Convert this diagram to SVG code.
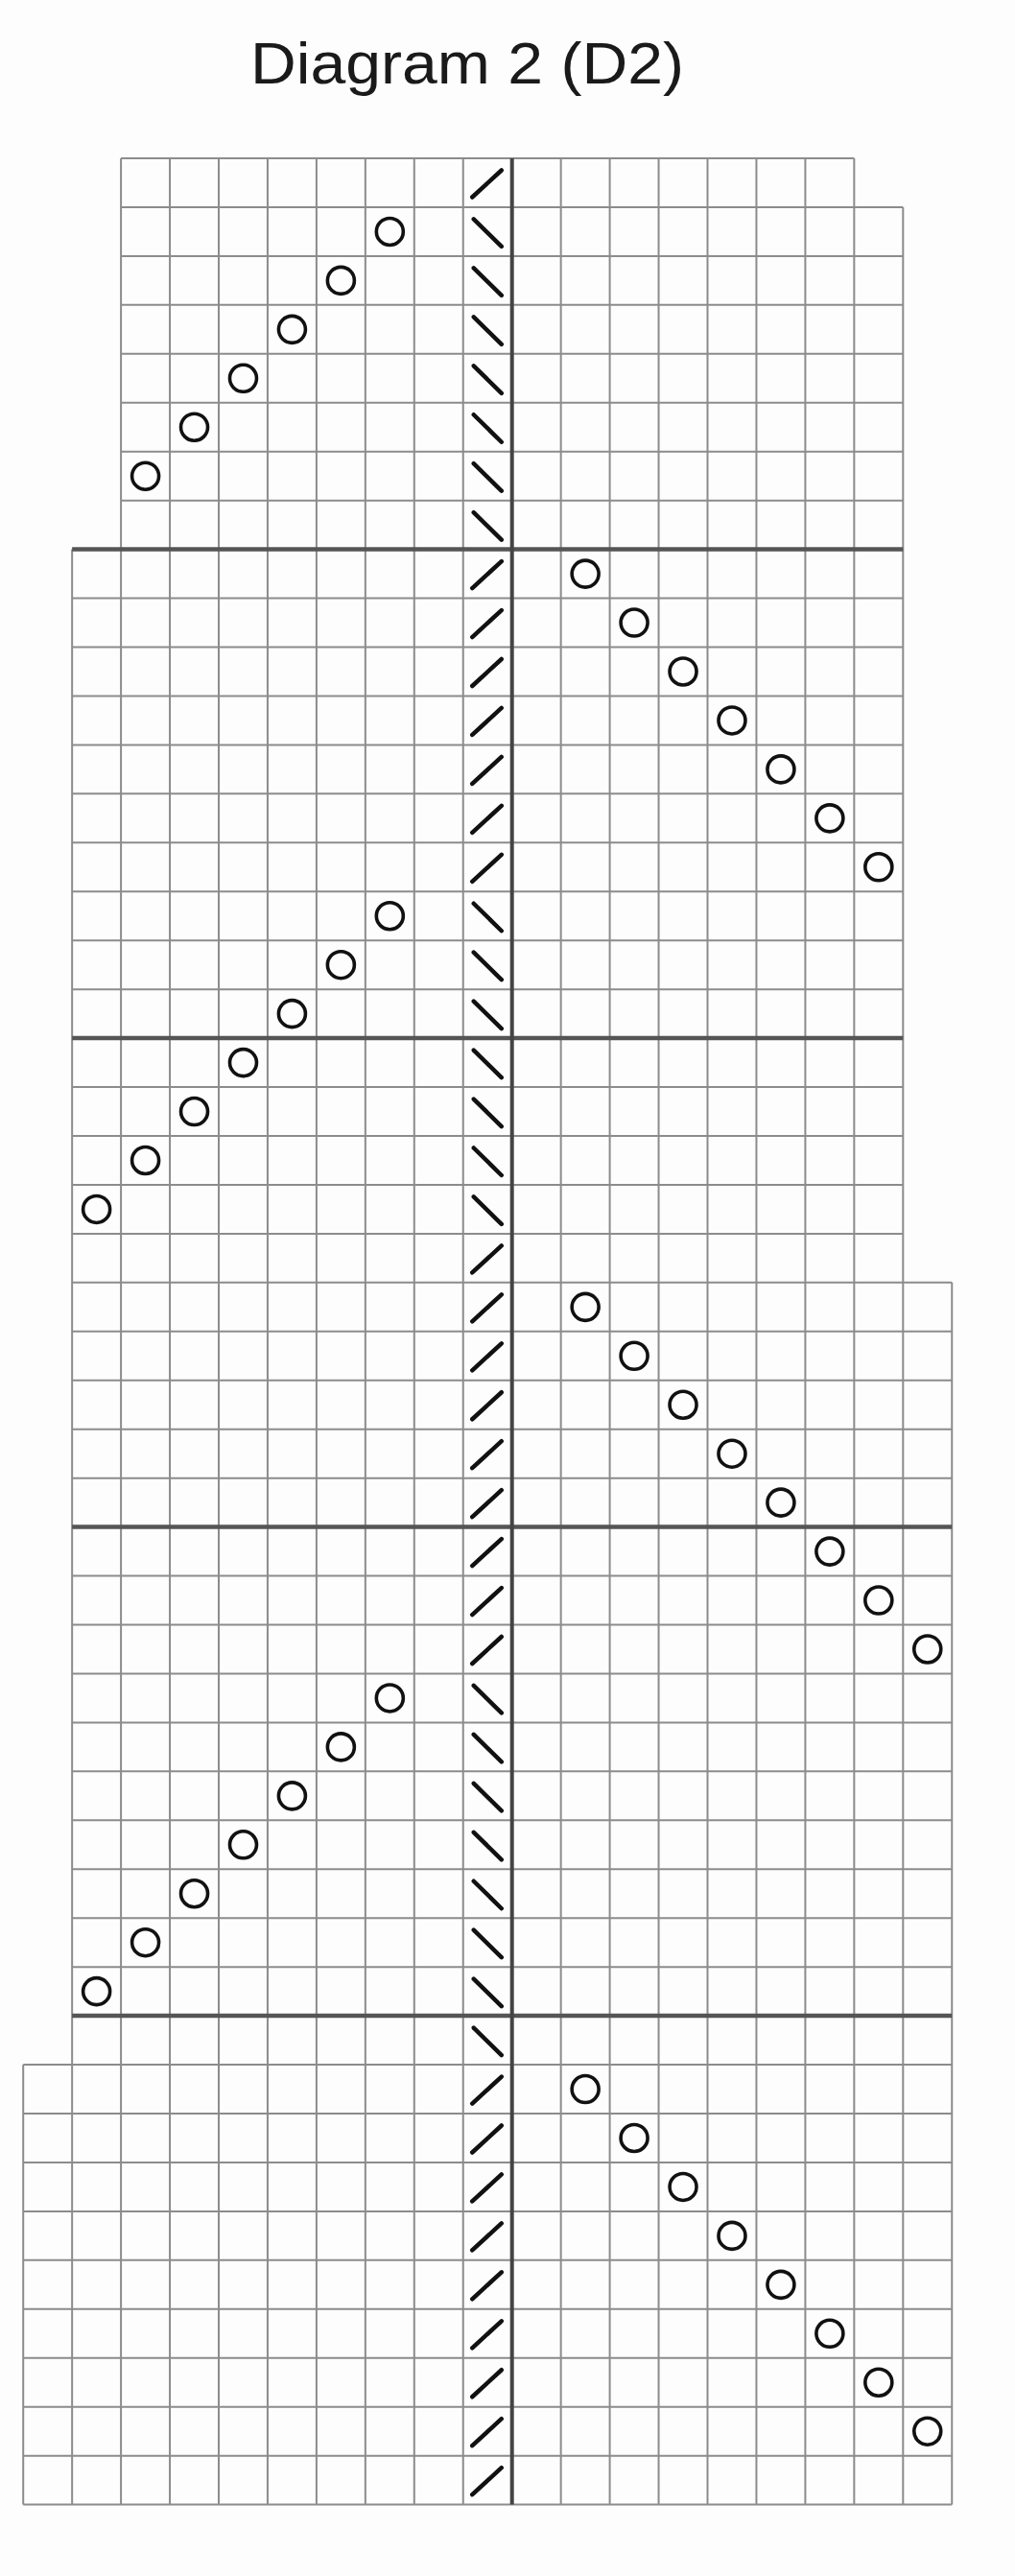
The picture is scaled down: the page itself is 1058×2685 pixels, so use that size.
<svg xmlns="http://www.w3.org/2000/svg" width="1058" height="2685" viewBox="0 0 1058 2685">
<style>
.thin{fill:none;stroke:#8c8c8c;stroke-width:2}
.thick{fill:none;stroke:#555;stroke-width:4.5}
.center{fill:none;stroke:#444;stroke-width:4}
.st{fill:none;stroke:#111;stroke-width:4.5;stroke-linecap:round}
.yo{fill:none;stroke:#111;stroke-width:3.6}
.title{font-family:"Liberation Sans",Arial,sans-serif;font-size:62px;fill:#1a1a1a}
</style>
<defs>
<path id="fs" class="st" d="M9.5 40.5L40 12.5"/>
<path id="bs" class="st" d="M11 12.5L40 41"/>
</defs>
<rect width="1058" height="2685" fill="#fdfdfd"/>
<text id="title" class="title" x="261" y="87" textLength="452" lengthAdjust="spacingAndGlyphs">Diagram 2 (D2)</text>
<g id="grid">
<path class="thin" d="M126.1 165H890.35 M126.1 215.95H941.3 M126.1 266.9H941.3 M126.1 317.85H941.3 M126.1 368.8H941.3 M126.1 419.75H941.3 M126.1 470.7H941.3 M126.1 521.65H941.3
M75.15 623.55H941.3 M75.15 674.5H941.3 M75.15 725.45H941.3 M75.15 776.4H941.3 M75.15 827.35H941.3 M75.15 878.3H941.3 M75.15 929.25H941.3 M75.15 980.2H941.3 M75.15 1031.15H941.3 M75.15 1133.05H941.3 M75.15 1184H941.3 M75.15 1234.95H941.3 M75.15 1285.9H941.3
M75.15 1336.85H992.25 M75.15 1387.8H992.25 M75.15 1438.75H992.25 M75.15 1489.7H992.25 M75.15 1540.65H992.25 M75.15 1642.55H992.25 M75.15 1693.5H992.25 M75.15 1744.45H992.25 M75.15 1795.4H992.25 M75.15 1846.35H992.25 M75.15 1897.3H992.25 M75.15 1948.25H992.25 M75.15 1999.2H992.25 M75.15 2050.15H992.25
M24.2 2152.05H992.25 M24.2 2203H992.25 M24.2 2253.95H992.25 M24.2 2304.9H992.25 M24.2 2355.85H992.25 M24.2 2406.8H992.25 M24.2 2457.75H992.25 M24.2 2508.7H992.25 M24.2 2559.65H992.25 M24.2 2610.6H992.25
M24.2 2152.05V2610.6 M75.15 572.6V2610.6
M126.1 165V2610.6 M177.05 165V2610.6 M228 165V2610.6 M278.95 165V2610.6 M329.9 165V2610.6 M380.85 165V2610.6 M431.8 165V2610.6 M482.75 165V2610.6
M584.65 165V2610.6 M635.6 165V2610.6 M686.55 165V2610.6 M737.5 165V2610.6 M788.45 165V2610.6 M839.4 165V2610.6 M890.35 165V2610.6
M941.3 215.95V2610.6 M992.25 1336.85V2610.6"/>
<path class="thick" d="M75.15 572.6H941.3 M75.15 1082.1H941.3 M75.15 1591.6H992.25 M75.15 2101.1H992.25"/>
<path class="center" d="M533.7 165V2610.6"/>
</g>
<g id="decreases">
<use href="#fs" x="482.75" y="165"/>
<use href="#bs" x="482.75" y="215.95"/><use href="#bs" x="482.75" y="266.9"/><use href="#bs" x="482.75" y="317.85"/><use href="#bs" x="482.75" y="368.8"/><use href="#bs" x="482.75" y="419.75"/><use href="#bs" x="482.75" y="470.7"/><use href="#bs" x="482.75" y="521.65"/>
<use href="#fs" x="482.75" y="572.6"/><use href="#fs" x="482.75" y="623.55"/><use href="#fs" x="482.75" y="674.5"/><use href="#fs" x="482.75" y="725.45"/><use href="#fs" x="482.75" y="776.4"/><use href="#fs" x="482.75" y="827.35"/><use href="#fs" x="482.75" y="878.3"/>
<use href="#bs" x="482.75" y="929.25"/><use href="#bs" x="482.75" y="980.2"/><use href="#bs" x="482.75" y="1031.15"/><use href="#bs" x="482.75" y="1082.1"/><use href="#bs" x="482.75" y="1133.05"/><use href="#bs" x="482.75" y="1184"/><use href="#bs" x="482.75" y="1234.95"/>
<use href="#fs" x="482.75" y="1285.9"/><use href="#fs" x="482.75" y="1336.85"/><use href="#fs" x="482.75" y="1387.8"/><use href="#fs" x="482.75" y="1438.75"/><use href="#fs" x="482.75" y="1489.7"/><use href="#fs" x="482.75" y="1540.65"/><use href="#fs" x="482.75" y="1591.6"/><use href="#fs" x="482.75" y="1642.55"/><use href="#fs" x="482.75" y="1693.5"/>
<use href="#bs" x="482.75" y="1744.45"/><use href="#bs" x="482.75" y="1795.4"/><use href="#bs" x="482.75" y="1846.35"/><use href="#bs" x="482.75" y="1897.3"/><use href="#bs" x="482.75" y="1948.25"/><use href="#bs" x="482.75" y="1999.2"/><use href="#bs" x="482.75" y="2050.15"/><use href="#bs" x="482.75" y="2101.1"/>
<use href="#fs" x="482.75" y="2152.05"/><use href="#fs" x="482.75" y="2203"/><use href="#fs" x="482.75" y="2253.95"/><use href="#fs" x="482.75" y="2304.9"/><use href="#fs" x="482.75" y="2355.85"/><use href="#fs" x="482.75" y="2406.8"/><use href="#fs" x="482.75" y="2457.75"/><use href="#fs" x="482.75" y="2508.7"/><use href="#fs" x="482.75" y="2559.65"/>
</g>
<g id="yarnovers">
<circle class="yo" cx="406.33" cy="241.43" r="14"/><circle class="yo" cx="355.38" cy="292.38" r="14"/><circle class="yo" cx="304.43" cy="343.33" r="14"/><circle class="yo" cx="253.48" cy="394.28" r="14"/><circle class="yo" cx="202.53" cy="445.23" r="14"/><circle class="yo" cx="151.58" cy="496.18" r="14"/>
<circle class="yo" cx="610.13" cy="598.08" r="14"/><circle class="yo" cx="661.08" cy="649.03" r="14"/><circle class="yo" cx="712.03" cy="699.98" r="14"/><circle class="yo" cx="762.98" cy="750.93" r="14"/><circle class="yo" cx="813.93" cy="801.88" r="14"/><circle class="yo" cx="864.88" cy="852.83" r="14"/><circle class="yo" cx="915.83" cy="903.78" r="14"/>
<circle class="yo" cx="406.33" cy="954.73" r="14"/><circle class="yo" cx="355.38" cy="1005.68" r="14"/><circle class="yo" cx="304.43" cy="1056.63" r="14"/><circle class="yo" cx="253.48" cy="1107.58" r="14"/><circle class="yo" cx="202.53" cy="1158.53" r="14"/><circle class="yo" cx="151.58" cy="1209.48" r="14"/><circle class="yo" cx="100.63" cy="1260.43" r="14"/>
<circle class="yo" cx="610.13" cy="1362.33" r="14"/><circle class="yo" cx="661.08" cy="1413.28" r="14"/><circle class="yo" cx="712.03" cy="1464.23" r="14"/><circle class="yo" cx="762.98" cy="1515.18" r="14"/><circle class="yo" cx="813.93" cy="1566.13" r="14"/><circle class="yo" cx="864.88" cy="1617.08" r="14"/><circle class="yo" cx="915.83" cy="1668.03" r="14"/><circle class="yo" cx="966.78" cy="1718.98" r="14"/>
<circle class="yo" cx="406.33" cy="1769.93" r="14"/><circle class="yo" cx="355.38" cy="1820.88" r="14"/><circle class="yo" cx="304.43" cy="1871.83" r="14"/><circle class="yo" cx="253.48" cy="1922.78" r="14"/><circle class="yo" cx="202.53" cy="1973.73" r="14"/><circle class="yo" cx="151.58" cy="2024.68" r="14"/><circle class="yo" cx="100.63" cy="2075.63" r="14"/>
<circle class="yo" cx="610.13" cy="2177.53" r="14"/><circle class="yo" cx="661.08" cy="2228.48" r="14"/><circle class="yo" cx="712.03" cy="2279.43" r="14"/><circle class="yo" cx="762.98" cy="2330.38" r="14"/><circle class="yo" cx="813.93" cy="2381.33" r="14"/><circle class="yo" cx="864.88" cy="2432.28" r="14"/><circle class="yo" cx="915.83" cy="2483.23" r="14"/><circle class="yo" cx="966.78" cy="2534.18" r="14"/>
</g>
</svg>
